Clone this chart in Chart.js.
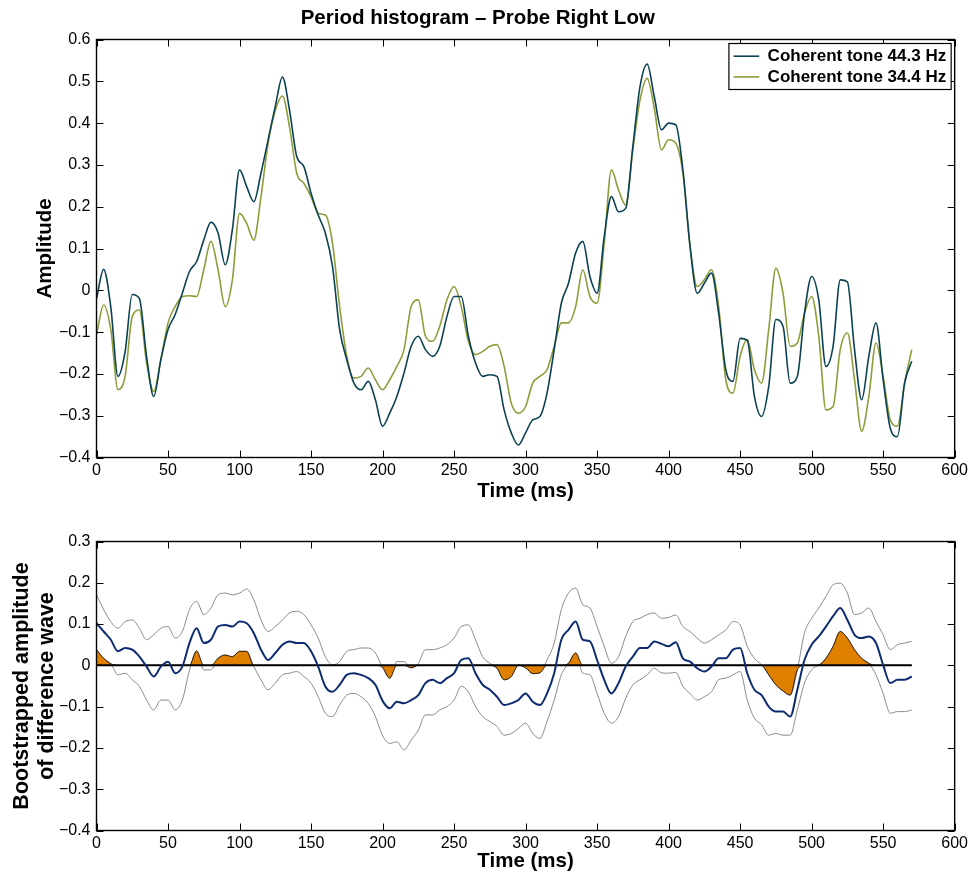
<!DOCTYPE html>
<html>
<head>
<meta charset="utf-8">
<script src="https://cdn.jsdelivr.net/npm/chart.js@4.4.1/dist/chart.umd.min.js"></script>
<style>
  html, body { margin: 0; padding: 0; background: #fff; }
  #wrap { position: relative; width: 971px; height: 874px; }
  .panel { position: absolute; left: 0; width: 971px; }
  #p1 { top: 0; height: 505px; }
  #p2 { top: 505px; height: 369px; }
</style>
</head>
<body>
<div id="wrap">
  <div class="panel" id="p1"><canvas id="c1"></canvas></div>
  <div class="panel" id="p2"><canvas id="c2"></canvas></div>
</div>
<script>
// Time base (ms)
const timeMs = [
  0, 5, 10, 15, 20, 25, 30, 35, 40, 45,
  50, 55, 60, 65, 70, 75, 80, 85, 90, 95,
  100, 105, 110, 115, 120, 125, 130, 135, 140, 145,
  150, 155, 160, 165, 170, 175, 180, 185, 190, 195,
  200, 205, 210, 215, 220, 225, 230, 235, 240, 245,
  250, 255, 260, 265, 270, 275, 280, 285, 290, 295,
  300, 305, 310, 315, 320, 325, 330, 335, 340, 345,
  350, 355, 360, 365, 370, 375, 380, 385, 390, 395,
  400, 405, 410, 415, 420, 425, 430, 435, 440, 445,
  450, 455, 460, 465, 470, 475, 480, 485, 490, 495,
  500, 505, 510, 515, 520, 525, 530, 535, 540, 545,
  550, 555, 560, 565, 570
];

// Period histogram, coherent tone 44.3 Hz
const tone443 = [
  -0.02, 0.05, -0.04, -0.206, -0.147, -0.01, -0.02, -0.158, -0.254, -0.166,
  -0.094, -0.058, -0.007, 0.045, 0.069, 0.12, 0.163, 0.137, 0.061, 0.145,
  0.288, 0.248, 0.212, 0.28, 0.36, 0.44, 0.51, 0.43, 0.32, 0.296,
  0.232, 0.18, 0.137, 0.057, -0.094, -0.166, -0.222, -0.238, -0.218, -0.262,
  -0.325, -0.294, -0.254, -0.198, -0.134, -0.11, -0.142, -0.158, -0.134, -0.063,
  -0.015, -0.015, -0.11, -0.174, -0.206, -0.202, -0.206, -0.286, -0.341, -0.37,
  -0.341, -0.31, -0.302, -0.246, -0.142, -0.031, 0.017, 0.089, 0.117, 0.033,
  -0.007, 0.129, 0.224, 0.188, 0.196, 0.344, 0.487, 0.541, 0.463, 0.384,
  0.4, 0.396, 0.288, 0.105, -0.007, 0.017, 0.041, -0.055, -0.19, -0.218,
  -0.115, -0.12, -0.254, -0.302, -0.23, -0.07, -0.086, -0.222, -0.206, -0.055,
  0.033, -0.023, -0.182, -0.134, 0.025, 0.02, -0.142, -0.262, -0.158, -0.078,
  -0.214, -0.33, -0.35, -0.222, -0.17
];

// Period histogram, coherent tone 34.4 Hz
const tone344 = [
  -0.106, -0.035, -0.094, -0.238, -0.206, -0.063, -0.047, -0.174, -0.242, -0.166,
  -0.078, -0.039, -0.015, -0.013, -0.015, 0.049, 0.117, 0.049, -0.039, 0.025,
  0.184, 0.16, 0.12, 0.224, 0.352, 0.43, 0.465, 0.39, 0.28, 0.256,
  0.224, 0.184, 0.18, 0.113, -0.039, -0.158, -0.21, -0.206, -0.186, -0.214,
  -0.238, -0.214, -0.182, -0.142, -0.039, -0.023, -0.11, -0.122, -0.086, -0.023,
  0.009, -0.039, -0.122, -0.154, -0.146, -0.134, -0.13, -0.182, -0.27, -0.294,
  -0.278, -0.222, -0.206, -0.19, -0.134, -0.078, -0.078, -0.039, 0.049, -0.015,
  -0.031, 0.113, 0.288, 0.24, 0.204, 0.336, 0.455, 0.507, 0.435, 0.336,
  0.36, 0.352, 0.28, 0.105, 0.009, 0.025, 0.049, -0.039, -0.214, -0.246,
  -0.158, -0.118, -0.19, -0.222, -0.094, 0.053, -0.007, -0.134, -0.126, -0.055,
  -0.015, -0.11, -0.286, -0.278, -0.142, -0.102, -0.214, -0.337, -0.254, -0.126,
  -0.206, -0.31, -0.325, -0.222, -0.142
];

// Bootstrapped difference wave: mean and confidence bounds
const diffMean = [
  0.102, 0.082, 0.062, 0.034, 0.042, 0.038, 0.021, -0.003, -0.027, -0.003,
  0.009, -0.019, -0.003, 0.054, 0.09, 0.054, 0.062, 0.094, 0.098, 0.094,
  0.106, 0.102, 0.078, 0.038, 0.013, 0.03, 0.05, 0.058, 0.054, 0.054,
  0.034, -0.003, -0.051, -0.064, -0.047, -0.023, -0.019, -0.023, -0.031, -0.047,
  -0.086, -0.104, -0.088, -0.092, -0.084, -0.072, -0.043, -0.035, -0.043, -0.031,
  -0.019, 0.013, 0.017, -0.019, -0.047, -0.059, -0.076, -0.096, -0.092, -0.084,
  -0.068, -0.088, -0.096, -0.068, -0.019, 0.062, 0.086, 0.106, 0.062, 0.058,
  0.013, -0.035, -0.068, -0.043, -0.003, 0.021, 0.042, 0.042, 0.058, 0.052,
  0.046, 0.056, 0.017, 0.009, -0.007, -0.015, -0.003, 0.017, 0.017, 0.038,
  0.042, -0.019, -0.059, -0.072, -0.1, -0.112, -0.112, -0.124, -0.059, 0.013,
  0.05, 0.07, 0.094, 0.119, 0.139, 0.11, 0.074, 0.066, 0.07, 0.054,
  0.001, -0.043, -0.035, -0.035, -0.027
];

const ciUpper = [
  0.171, 0.135, 0.106, 0.09, 0.106, 0.11, 0.09, 0.062, 0.074, 0.09,
  0.094, 0.066, 0.082, 0.135, 0.155, 0.123, 0.139, 0.171, 0.175, 0.171,
  0.175, 0.185, 0.159, 0.11, 0.082, 0.094, 0.11, 0.127, 0.131, 0.123,
  0.098, 0.066, 0.021, 0.001, 0.009, 0.034, 0.038, 0.042, 0.042, 0.03,
  -0.005, -0.031, 0.009, 0.009, -0.006, 0.005, 0.038, 0.038, 0.042, 0.05,
  0.066, 0.094, 0.098, 0.062, 0.021, 0.005, -0.007, -0.035, -0.027, 0.001,
  -0.006, -0.02, -0.018, 0.013, 0.054, 0.135, 0.175, 0.187, 0.147, 0.139,
  0.094, 0.046, 0.005, 0.021, 0.07, 0.106, 0.114, 0.123, 0.127, 0.114,
  0.116, 0.122, 0.094, 0.082, 0.066, 0.054, 0.062, 0.074, 0.086, 0.106,
  0.098, 0.046, 0.017, 0.001, -0.023, -0.047, -0.062, -0.072, -0.011, 0.078,
  0.114, 0.139, 0.167, 0.195, 0.199, 0.175, 0.123, 0.127, 0.139, 0.106,
  0.074, 0.038, 0.05, 0.054, 0.058
];

const ciLower = [
  0.038, 0.017, 0.004, -0.023, -0.019, -0.035, -0.051, -0.084, -0.108, -0.084,
  -0.084, -0.108, -0.084, -0.012, 0.035, -0.011, -0.011, 0.017, 0.025, 0.021,
  0.034, 0.034, -0.003, -0.035, -0.059, -0.043, -0.023, -0.019, -0.015, -0.027,
  -0.043, -0.076, -0.116, -0.124, -0.096, -0.072, -0.068, -0.076, -0.092, -0.124,
  -0.17, -0.189, -0.185, -0.205, -0.181, -0.157, -0.12, -0.12, -0.108, -0.1,
  -0.084, -0.051, -0.064, -0.1, -0.124, -0.136, -0.148, -0.169, -0.165, -0.153,
  -0.14, -0.165, -0.177, -0.136, -0.084, -0.023, 0.005, 0.03, -0.019, -0.023,
  -0.068, -0.116, -0.14, -0.124, -0.08, -0.047, -0.035, -0.023, -0.007, -0.018,
  -0.019, -0.017, -0.051, -0.068, -0.084, -0.076, -0.064, -0.035, -0.031, -0.023,
  -0.015, -0.084, -0.128, -0.144, -0.169, -0.165, -0.169, -0.169, -0.108, -0.043,
  -0.011, 0.001, 0.017, 0.046, 0.082, 0.066, 0.038, 0.017, 0.005, -0.023,
  -0.068, -0.116, -0.112, -0.112, -0.108
];

const seriesNames = ['Coherent tone 44.3 Hz', 'Coherent tone 34.4 Hz'];

// Portion of the confidence band that lies entirely on one side of zero
const sigBand = timeMs.map((t, i) =>
  ciLower[i] > 0 ? ciLower[i] : (ciUpper[i] < 0 ? ciUpper[i] : 0));

const pts = arr => timeMs.map((t, i) => ({ x: t, y: arr[i] }));

Chart.defaults.font.family = '"Liberation Sans", Arial, Helvetica, sans-serif';
Chart.defaults.color = '#000';

const fmtTick = v => {
  if (Math.abs(v) < 1e-9) return '0';
  return (v < 0 ? '\u2212' : '') + Math.abs(v).toFixed(1);
};

// Box around the plot area with inward tick marks on all four sides
const boxTicks = {
  id: 'boxTicks',
  afterDatasetsDraw(chart) {
    const { ctx, chartArea: a, scales } = chart;
    const len = 7;
    ctx.save();
    ctx.strokeStyle = '#000';
    ctx.lineWidth = 1;
    ctx.beginPath();
    scales.x.ticks.forEach(t => {
      const px = Math.round(scales.x.getPixelForValue(t.value)) + 0.5;
      ctx.moveTo(px, a.bottom); ctx.lineTo(px, a.bottom - len);
      ctx.moveTo(px, a.top); ctx.lineTo(px, a.top + len);
    });
    scales.y.ticks.forEach(t => {
      const py = Math.round(scales.y.getPixelForValue(t.value)) + 0.5;
      ctx.moveTo(a.left, py); ctx.lineTo(a.left + len, py);
      ctx.moveTo(a.right, py); ctx.lineTo(a.right - len, py);
    });
    ctx.stroke();
    ctx.lineWidth = 1.4;
    ctx.strokeRect(a.left, a.top, a.right - a.left, a.bottom - a.top);
    ctx.restore();
  }
};

// Boxed legend in the upper right corner of the plot area
const boxLegend = {
  id: 'boxLegend',
  afterDraw(chart) {
    const { ctx, chartArea: a } = chart;
    const ds = chart.data.datasets.filter(d => d.label);
    ctx.save();
    ctx.font = 'bold 17px "Liberation Sans", Arial, sans-serif';
    const w = Math.max(...ds.map(d => ctx.measureText(d.label).width));
    const right = a.right - 3.5, top = a.top + 4;
    const left = right - 5 - w - 38.7;
    const h = 46;
    ctx.fillStyle = '#fff';
    ctx.fillRect(left, top, right - left, h);
    ctx.strokeStyle = '#000';
    ctx.lineWidth = 1.2;
    ctx.strokeRect(left, top, right - left, h);
    ds.forEach((d, i) => {
      const y = top + 12.7 + i * 20.7;
      ctx.strokeStyle = d.borderColor;
      ctx.lineWidth = 1.6;
      ctx.beginPath();
      ctx.moveTo(left + 4.7, y); ctx.lineTo(left + 30.3, y);
      ctx.stroke();
      ctx.fillStyle = '#000';
      ctx.textBaseline = 'middle';
      ctx.textAlign = 'left';
      ctx.fillText(d.label, left + 38.7, y + 0.5);
    });
    ctx.restore();
  }
};

function xAxis(height, titlePadBottom) {
  return {
    type: 'linear', min: 0, max: 600,
    ticks: { stepSize: 50, font: { size: 16 }, padding: 3, maxRotation: 0, autoSkip: false, color: '#000' },
    grid: { display: false, drawTicks: false },
    border: { display: false },
    title: { display: true, text: 'Time (ms)', color: '#000',
             font: { size: 20.5, weight: 'bold' }, padding: { top: 0, bottom: titlePadBottom } },
    afterFit(s) { s.height = height; }
  };
}

function yAxis(min, max, title, size, titlePadTop, lineHeight) {
  return {
    type: 'linear', min, max,
    ticks: { stepSize: 0.1, font: { size: 16 }, padding: 6, color: '#000', callback: fmtTick },
    grid: { display: false, drawTicks: false },
    border: { display: false },
    title: { display: true, text: title, color: '#000',
             font: { size, weight: 'bold', lineHeight }, padding: { top: titlePadTop, bottom: 0 } },
    afterFit(s) { s.width = 96.5; }
  };
}

const common = {
  responsive: true,
  maintainAspectRatio: false,
  animation: false,
  devicePixelRatio: 1,
  events: [],
  elements: { point: { radius: 0 }, line: { cubicInterpolationMode: 'monotone' } },
};

new Chart(document.getElementById('c1'), {
  type: 'line',
  data: {
    datasets: [
      { label: seriesNames[0], data: pts(tone443), borderColor: '#0b4253', borderWidth: 1.6, fill: false },
      { label: seriesNames[1], data: pts(tone344), borderColor: '#8e9d3b', borderWidth: 1.6, fill: false }
    ]
  },
  options: {
    ...common,
    layout: { padding: { left: 0, right: 15.5, top: 0, bottom: 0 } },
    plugins: {
      legend: { display: false },
      tooltip: { enabled: false },
      title: { display: true, text: 'Period histogram \u2013 Probe Right Low', color: '#000',
               font: { size: 20.5, weight: 'bold' }, padding: { top: 6.5, bottom: 8.4 } }
    },
    scales: { x: xAxis(47.5, 1.5), y: yAxis(-0.4, 0.6, 'Amplitude', 20.5, 32.7, 1.2) }
  },
  plugins: [boxTicks, boxLegend]
});

const t0 = timeMs[0], tEnd = timeMs[timeMs.length - 1];

new Chart(document.getElementById('c2'), {
  type: 'line',
  data: {
    datasets: [
      { data: pts(diffMean), borderColor: '#0d2b70', borderWidth: 2, fill: false },
      { data: [{ x: t0, y: 0 }, { x: tEnd, y: 0 }], borderColor: '#000', borderWidth: 2, fill: false },
      { data: pts(sigBand), borderColor: '#000', borderWidth: 0.8, backgroundColor: '#e08000', fill: 'origin' },
      { data: pts(ciUpper), borderColor: '#8a8a8a', borderWidth: 1, fill: false },
      { data: pts(ciLower), borderColor: '#8a8a8a', borderWidth: 1, fill: false }
    ]
  },
  options: {
    ...common,
    layout: { padding: { left: 0, right: 15.5, top: 36.5, bottom: 0 } },
    plugins: { legend: { display: false }, tooltip: { enabled: false }, title: { display: false } },
    scales: {
      x: xAxis(43.5, 0.8),
      y: yAxis(-0.4, 0.3, ['Bootstrapped amplitude', 'of difference wave'], 21.5, 9.2, 1.16)
    }
  },
  plugins: [boxTicks]
});
</script>
</body>
</html>
